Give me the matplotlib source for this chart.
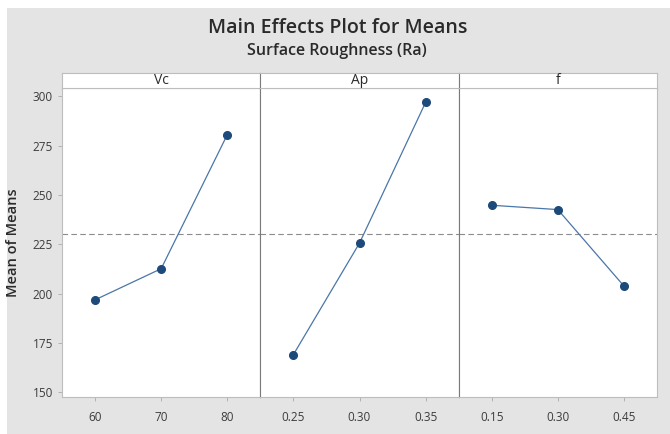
import numpy as np
import matplotlib.pyplot as plt
from matplotlib.patches import Rectangle

plt.rcParams['font.family'] = ['Open Sans', 'DejaVu Sans']

# factor names, levels and the mean response at each level
factors = ['Vc', 'Ap', 'f']
levels = [['60', '70', '80'],
          ['0.25', '0.30', '0.35'],
          ['0.15', '0.30', '0.45']]
vc_means = [196.8, 212.6, 280.6]
ap_means = [169.0, 225.6, 297.0]
f_means = [244.8, 242.6, 203.8]
all_means = [vc_means, ap_means, f_means]
grand_mean = np.mean(all_means)

yticks = [150, 175, 200, 225, 250, 275, 300]

W, H = 670, 434
fig = plt.figure(figsize=(W / 100, H / 100), dpi=100, facecolor='white')
# grey backdrop like the minitab graph window
fig.patches.append(Rectangle((7 / W, 0), 1, 1 - 8 / H, transform=fig.transFigure,
                             facecolor='#e4e4e4', edgecolor='none', zorder=-10))

left, right, top, bottom = 62, 657, 88, 397
panel_w = (right - left) / 3
strip_h = 15.5

line_col = '#4a76a8'
mark_col = '#1d4a7a'
frame_col = '#bdbdbd'
text_col = '#2a2a2a'

axes = []
for i, (name, labs, means) in enumerate(zip(factors, levels, all_means)):
    x0 = left + i * panel_w
    ax = fig.add_axes([x0 / W, 1 - bottom / H, panel_w / W, (bottom - top) / H])
    x = np.arange(len(labs))
    ax.plot(x, means, color=line_col, lw=0.9, zorder=2)
    ax.plot(x, means, 'o', color=mark_col, ms=5.5, zorder=3)
    ax.axhline(grand_mean, color='#8c8c8c', lw=0.8, ls=(0, (5, 3)), zorder=1)
    ax.set_xlim(-0.5, 2.5)
    ax.set_ylim(147.5, 304.3)
    ax.set_xticks(x)
    ax.set_xticklabels(labs)
    ax.set_yticks(yticks)
    ax.tick_params(axis='both', labelsize=8.5, labelcolor='#3c3c3c', length=3,
                   width=0.6, color='#aaaaaa')
    ax.tick_params(axis='x', pad=7)
    for s in ax.spines.values():
        s.set_color(frame_col)
        s.set_linewidth(0.8)
    if i > 0:
        ax.tick_params(axis='y', left=False, labelleft=False)
        ax.spines['left'].set_color('#7a7a7a')
    if i < 2:
        ax.spines['right'].set_color('#7a7a7a')

    # strip header with the factor name
    sax = fig.add_axes([x0 / W, 1 - top / H, panel_w / W, strip_h / H])
    sax.set_xticks([])
    sax.set_yticks([])
    for s in sax.spines.values():
        s.set_color(frame_col)
        s.set_linewidth(0.8)
    if i > 0:
        sax.spines['left'].set_color('#7a7a7a')
    sax.text(0.5, 0.5, name, ha='center', va='center', fontsize=10, color=text_col,
             transform=sax.transAxes)
    axes.append(ax)

axes[0].set_ylabel('Mean of Means', fontsize=10.5, color=text_col, labelpad=9,
                   fontweight='semibold')

fig.text(338 / W, 1 - 28 / H, 'Main Effects Plot for Means', ha='center', va='center',
         fontsize=14, color=text_col, fontweight='semibold')
fig.text(337 / W, 1 - 51 / H, 'Surface Roughness (Ra)', ha='center', va='center',
         fontsize=11.5, color=text_col, fontweight='semibold')

fig.savefig('out.png', dpi=100, facecolor=fig.get_facecolor())
